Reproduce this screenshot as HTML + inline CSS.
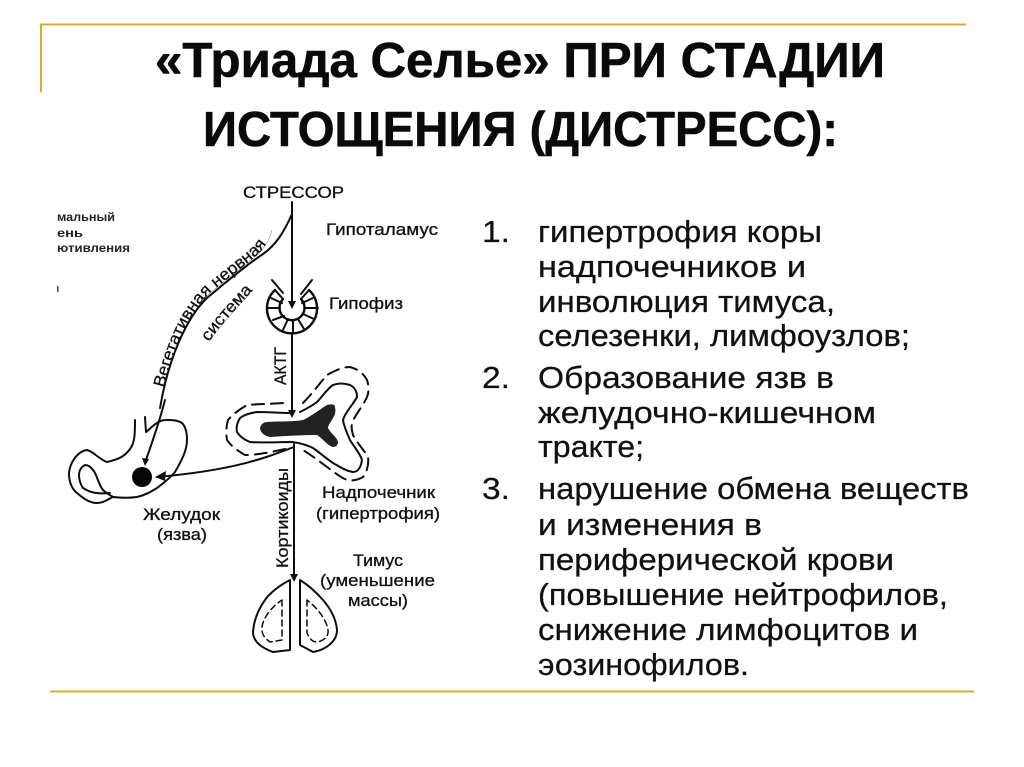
<!DOCTYPE html>
<html lang="ru"><head><meta charset="utf-8"><title>Триада Селье</title>
<style>
html,body{margin:0;padding:0;background:#fff;width:1024px;height:767px;overflow:hidden}
svg{display:block;filter:blur(.35px)}
.t{font-family:"Liberation Sans",sans-serif;font-weight:bold;font-size:49px;fill:#0a0a0a;stroke:#0a0a0a;stroke-width:.6}
.b{font-family:"Liberation Sans",sans-serif;font-size:31px;fill:#111;stroke:#111;stroke-width:.25}
.d{font-family:"Liberation Sans",sans-serif;font-size:16.500px;fill:#111;stroke:#111;stroke-width:.3}
.s{font-family:"Liberation Sans",sans-serif;font-size:11.500px;font-weight:bold;fill:#222}
.l{fill:none;stroke:#0d0d0d;stroke-width:2;stroke-linecap:round;stroke-linejoin:round}
.da{stroke-dasharray:12 7}
.db{stroke-dasharray:6 4;stroke-width:1.500}
</style></head><body>
<svg width="1024" height="767" viewBox="0 0 1024 767" xmlns="http://www.w3.org/2000/svg">
<rect width="1024" height="767" fill="#fff"/>
<path d="M41 92V24.500H966M50 691.500H974" fill="none" stroke="#d8a935" stroke-width="2"/>

<text class="t" x="155" y="77" textLength="730" lengthAdjust="spacingAndGlyphs">«Триада Селье» ПРИ СТАДИИ</text>
<text class="t" x="203" y="146" textLength="635" lengthAdjust="spacingAndGlyphs">ИСТОЩЕНИЯ (ДИСТРЕСС):</text>

<g class="b">
<text x="482" y="242" textLength="28" lengthAdjust="spacingAndGlyphs">1.</text>
<text x="538" y="242" textLength="284" lengthAdjust="spacingAndGlyphs">гипертрофия коры</text>
<text x="538" y="277" textLength="268" lengthAdjust="spacingAndGlyphs">надпочечников и</text>
<text x="538" y="312" textLength="297" lengthAdjust="spacingAndGlyphs">инволюция тимуса,</text>
<text x="538" y="346" textLength="372" lengthAdjust="spacingAndGlyphs">селезенки, лимфоузлов;</text>
<text x="482" y="388" textLength="28" lengthAdjust="spacingAndGlyphs">2.</text>
<text x="538" y="388" textLength="296" lengthAdjust="spacingAndGlyphs">Образование язв в</text>
<text x="538" y="423" textLength="338" lengthAdjust="spacingAndGlyphs">желудочно-кишечном</text>
<text x="538" y="457" textLength="106" lengthAdjust="spacingAndGlyphs">тракте;</text>
<text x="482" y="499" textLength="28" lengthAdjust="spacingAndGlyphs">3.</text>
<text x="538" y="499" textLength="431" lengthAdjust="spacingAndGlyphs">нарушение обмена веществ</text>
<text x="538" y="535" textLength="224" lengthAdjust="spacingAndGlyphs">и изменения в</text>
<text x="538" y="570" textLength="356" lengthAdjust="spacingAndGlyphs">периферической крови</text>
<text x="538" y="605" textLength="410" lengthAdjust="spacingAndGlyphs">(повышение нейтрофилов,</text>
<text x="538" y="640" textLength="380" lengthAdjust="spacingAndGlyphs">снижение лимфоцитов и</text>
<text x="538" y="675" textLength="211" lengthAdjust="spacingAndGlyphs">эозинофилов.</text>
</g>

<!-- arrows -->
<path class="l" d="M292 202V304M292 333V413M294 444V577"/>
<path d="M288 301L292 309L296 301ZM288 410L292 418L296 410ZM290 574L294 582L298 574ZM142 458L145 466L149 459ZM155 477L166 471L165 481Z" fill="#0d0d0d"/>
<path class="l" d="M292 214C284 232 276 245 263 254C248 264 226 282 207 298C186 318 168 360 160 408"/>
<path class="l" d="M165 400C160 420 153 440 146 460"/>
<path class="l" d="M294 447C265 458 235 470 157 477"/>

<!-- stomach -->
<path class="l" d="M135 420C135 432 135 443 130 449C125 456 120 459 107 462C100 460 93 451 87 450C78 451 70 462 69 473C69 483 72 489 77 493C84 499 90 503 97 503C104 503 108 499 113 497C122 498 130 498 137 497C146 495 152 491 157 488C165 482 170 478 175 472C182 460 187 450 187 440C187 431 185 426 182 423C177 420 172 420 167 420C162 420 160 421 157 423C152 426 149 430 146 432L145 417"/>
<path class="l" d="M113 497C108 494 105 492 103 490C98 484 97 474 93 470C90 466 87 465 85 465C81 467 79 471 79 475C79 481 81 485 83 488C88 491 92 493 97 493C102 494 106 493 110 493"/>
<circle cx="142" cy="477" r="10" fill="#050505"/>

<!-- pituitary -->
<g class="l">
<path d="M272 280L283 293M312 280L301 294"/>
<path d="M275 290A25 25 0 1 0 309 290" stroke-width="2.400"/>
<path d="M283 299A12.500 12.500 0 1 0 301 299" stroke-width="2.400"/>
<path d="M275 290L283 299M309 290L301 299"/>
<path d="M268 308H280M273 320L284 316M283 330L288 319M293 333V321M304 329L298 319M314 319L303 314M318 308H305M271 298L282 303M313 298L302 303"/>
</g>

<!-- adrenal -->
<path d="M260 428C261 424 264 422 267 422C280 421 292 422 303 420C312 416 320 409 327 405C331 404 335 404 335 407C336 412 335 415 333 418C331 422 328 425 328 428C331 434 337 437 338 442C338 445 336 447 333 447C328 446 323 439 317 435C304 435 285 436 270 437C264 436 260 432 260 428Z" fill="#222"/>
<path class="l" d="M290 413C280 413 268 412 257 412C250 413 244 415 240 418C237 423 236 428 237 432C240 437 245 440 250 442C262 443 278 442 292 442C300 443 307 445 313 448C320 453 327 459 333 463C340 467 346 471 353 472C358 472 361 467 362 460C360 453 354 447 350 440C347 433 344 427 343 420C345 412 353 405 357 397C357 391 354 387 350 385C344 383 338 383 333 385C327 389 322 397 317 402C312 406 306 409 300 412"/>
<path class="l da" d="M283 403C270 404 258 404 247 405C240 409 233 414 228 420C226 427 226 434 227 440C232 447 238 451 245 455C260 455 275 451 290 448"/>
<path class="l da" d="M303 403C312 394 320 383 327 375C334 371 342 367 350 367C358 369 364 374 367 380C369 386 369 392 367 397C363 406 355 415 352 423C351 428 352 431 353 435C357 443 364 450 368 457C369 464 367 472 363 477C358 480 352 481 347 480C340 477 334 472 327 467C319 461 311 455 303 450"/>

<!-- thymus -->
<path class="l" d="M290 580V650L273 652C262 648 253 642 253 632C254 618 260 606 268 596C274 590 282 584 290 580Z"/>
<path class="l" d="M300 580V645L313 652C325 650 337 642 337 630C336 618 330 608 323 600C316 592 308 585 300 580Z"/>
<path class="l db" d="M282 600V640L270 642C264 638 261 633 262 627C263 619 270 608 282 600Z"/>
<path class="l db" d="M307 600V633C309 638 312 642 317 642C324 641 329 636 328 630C327 622 320 610 307 600Z"/>

<!-- labels -->
<g class="d">
<text x="243" y="198" textLength="101" lengthAdjust="spacingAndGlyphs">СТРЕССОР</text>
<text x="326" y="235" textLength="112" lengthAdjust="spacingAndGlyphs">Гипоталамус</text>
<text x="329" y="309" textLength="74" lengthAdjust="spacingAndGlyphs">Гипофиз</text>
<text x="322" y="498" textLength="113" lengthAdjust="spacingAndGlyphs">Надпочечник</text>
<text x="316" y="519" textLength="124" lengthAdjust="spacingAndGlyphs">(гипертрофия)</text>
<text x="143" y="520" textLength="77" lengthAdjust="spacingAndGlyphs">Желудок</text>
<text x="157" y="540" textLength="50" lengthAdjust="spacingAndGlyphs">(язва)</text>
<text x="353" y="566" textLength="50" lengthAdjust="spacingAndGlyphs">Тимус</text>
<text x="320" y="586" textLength="115" lengthAdjust="spacingAndGlyphs">(уменьшение</text>
<text x="348" y="606" textLength="60" lengthAdjust="spacingAndGlyphs">массы)</text>
<text transform="translate(286 385) rotate(-90)" textLength="38" lengthAdjust="spacingAndGlyphs">АКТГ</text>
<text transform="translate(288 568) rotate(-90)" textLength="100" lengthAdjust="spacingAndGlyphs">Кортикоиды</text>
<path id="p1" d="M164 388C175 345 190 312 210 293C230 276 248 264 260 252C266 246 270 238 272 230" fill="none"/>
<path id="p2" d="M209 342C221 324 237 308 253 290" fill="none"/>
<text><textPath href="#p1" textLength="182" lengthAdjust="spacingAndGlyphs">Вегетативная нервная</textPath></text>
<text><textPath href="#p2" textLength="68" lengthAdjust="spacingAndGlyphs">система</textPath></text>
</g>
<text class="s" x="57" y="221" textLength="58" lengthAdjust="spacingAndGlyphs">мальный</text>
<text class="s" x="57" y="237" textLength="26" lengthAdjust="spacingAndGlyphs">ень</text>
<text class="s" x="57" y="252" textLength="73" lengthAdjust="spacingAndGlyphs">ютивления</text>
<rect x="57" y="286" width="1.500" height="6" fill="#444"/>
</svg>
</body></html>
